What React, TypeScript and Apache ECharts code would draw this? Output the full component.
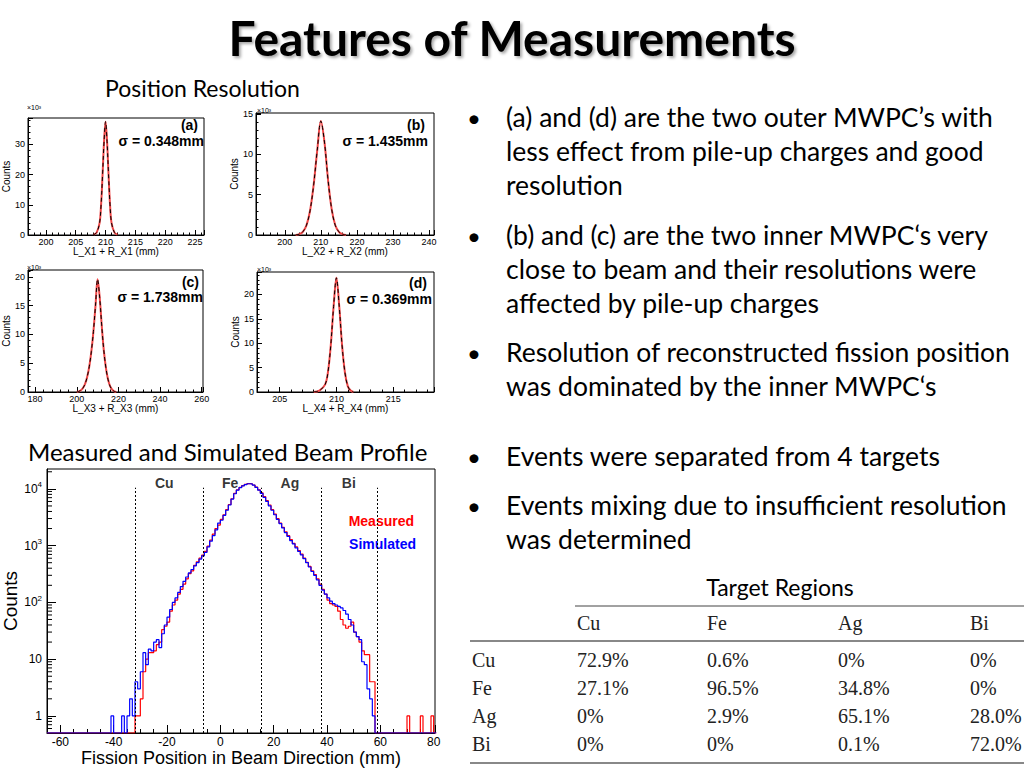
import React, { useEffect, useRef } from "react";
import * as echarts from "echarts";

// ---------------- Data ----------------
// Position-resolution panels (counts in units of 10^3)
const panelA_x = [208, 208.5, 209, 209.25, 209.5, 209.75, 210, 210.25, 210.5, 210.75, 211, 211.5, 212];
const panelA_y = [0.1, 0.8, 4, 10, 20, 31, 37.5, 31, 20, 10, 4, 0.8, 0.1];
const panelB_x = [203, 204, 205, 206, 207, 208, 209, 210, 211, 212, 213, 214, 215, 216, 217];
const panelB_y = [0, 0.1, 0.4, 1.2, 3.0, 6.2, 10.5, 14.1, 11.5, 6.8, 3.2, 1.2, 0.4, 0.1, 0];
const panelC_x = [200, 201, 202, 203, 204, 205, 206, 207, 208, 209, 210, 211, 212, 213, 214, 215, 216, 217, 218, 219];
const panelC_y = [0, 0.1, 0.3, 0.7, 1.4, 2.6, 4.4, 7.0, 10.5, 15.0, 19.6, 16.5, 11.5, 7.2, 4.2, 2.2, 1.0, 0.4, 0.1, 0];
const panelD_x = [208, 208.5, 209, 209.25, 209.5, 209.75, 210, 210.25, 210.5, 210.75, 211, 211.25, 211.5];
const panelD_y = [0, 0.3, 1.5, 4, 9.5, 17.5, 23.4, 17.5, 9.5, 4, 1.2, 0.3, 0];

// Beam profile histograms: 1 mm bins, left edges from -65 mm
const profileBinStart = -65;
const profileBinWidth = 1;
const measuredCounts = [
  0, 0, 0, 0, 0, 0, 0, 0, 0, 0, 0, 0, 0, 0, 0, 0, 0, 0, 0, 0, // -65..-46
  0, 0, 0, 0, 0, 0, 0, 0, 0, 0, 0, 0, 0, // -45..-33
  1, 1, 2, 6, 10, 13, 13, 14, 18, 20, // -32..-23
  33, 38, 45, 70, 90, 110, 140, 170, 210, 260, // -22..-13
  320, 360, 450, 520, 600, 680, 790, 980, 1250, 1600, // -12..-3
  2000, 2300, 2900, 3500, 4300, 5300, 6700, 8300, 9600, 10600, // -2..7
  11400, 12000, 12400, 12300, 11700, 10700, 9600, 8500, 7300, 6200, // 8..17
  5200, 4300, 3600, 3000, 2500, 2100, 1750, 1500, 1280, 1100, // 18..27
  950, 820, 710, 600, 510, 430, 360, 310, 260, 210, // 28..37
  170, 140, 110, 95, 90, 85, 70, 50, 40, 35, // 38..47
  38, 45, 30, 25, 20, 14, 12, 12, 4, 4, // 48..57
  0, 0, 0, 0, 0, 0, 0, 0, 0, 0, 0, 0, // 58..69
  1, 0, 0, 0, 0, 1, 0, 0, 0, 1, 0, // 70..80
];
const simulatedCounts = [
  0, 0, 0, 0, 0, 0, 0, 0, 0, 0, 0, 0, 0, 0, 0, 0, 0, 0, 0, 0, // -65..-46
  0, 0, 0, 0, 1, 0, 0, 0, 1, 0, 1, 2, 1, // -45..-33
  4, 3, 6, 13, 8, 15, 14, 20, 22, 16, // -32..-23
  28, 40, 55, 75, 100, 120, 150, 190, 235, 280, // -22..-13
  330, 380, 440, 500, 580, 660, 760, 950, 1200, 1500, // -12..-3
  1900, 2500, 2800, 3400, 4200, 5200, 6600, 8200, 9500, 10500, // -2..7
  11300, 11900, 12300, 12200, 11600, 10600, 9500, 8300, 7100, 6000, // 8..17
  5000, 4200, 3500, 2900, 2450, 2050, 1700, 1450, 1230, 1070, // 18..27
  910, 790, 690, 590, 500, 420, 350, 300, 250, 200, // 28..37
  165, 140, 120, 105, 95, 90, 85, 80, 72, 62, // 38..47
  50, 40, 30, 25, 22, 9, 8, 3, 2, 1, // 48..57
  0, 0, 0, 0, 0, 0, 0, 0, 0, 0, 0, 0, // 58..69
  0, 0, 0, 0, 0, 0, 0, 0, 0, 0, 0, // 70..80
];
const targetNames = ["Cu", "Fe", "Ag", "Bi"];
const targetLabelX = [-21, 3.7, 26.1, 48.2];
const targetBounds = [-32, -6.5, 15.4, 38, 59];

// Table
const tableCols = ["Cu", "Fe", "Ag", "Bi"];
const tableRows = ["Cu", "Fe", "Ag", "Bi"];
const tableValues = [
  ["72.9%", "0.6%", "0%", "0%"],
  ["27.1%", "96.5%", "34.8%", "0%"],
  ["0%", "2.9%", "65.1%", "28.0%"],
  ["0%", "0%", "0.1%", "72.0%"],
];

const bulletTexts = [
  ["(a) and (d) are the two outer MWPC\u2019s with", "less effect from pile-up charges and good", "resolution"],
  ["(b) and (c) are the two inner MWPC\u2018s very", "close to beam and their resolutions were", "affected by pile-up charges"],
  ["Resolution of reconstructed fission position", "was dominated by the inner MWPC\u2018s"],
  ["Events were separated from 4 targets"],
  ["Events mixing due to insufficient resolution", "was determined"],
];

// ---------------- Layout ----------------
const SANS = "'Liberation Sans', Arial, sans-serif";
const SLIDE = "Lato, 'Open Sans', sans-serif";
const SERIF = "'Liberation Serif', 'Times New Roman', serif";
const LOG_MIN = Math.log10(0.5);
const LOG_MAX = 4.35;

const panels = [
  { x: panelA_x, y: panelA_y, grid: { left: 28, top: 118, width: 176, height: 117 }, xMin: 197, xMax: 226.5, split: 6, yMax: 38.7, yInt: 10, xTitle: "L_X1 + R_X1 (mm)", tag: "(a)", sigma: "\u03c3 = 0.348mm", tagPos: [198, 125], sigmaPos: [204, 141], expPos: [27, 107] },
  { x: panelB_x, y: panelB_y, grid: { left: 256, top: 113, width: 178, height: 122 }, xMin: 192, xMax: 241.4, split: 5, yMax: 15.1, yInt: 5, xTitle: "L_X2 + R_X2 (mm)", tag: "(b)", sigma: "\u03c3 = 1.435mm", tagPos: [425, 125], sigmaPos: [428, 141], expPos: [257, 110] },
  { x: panelC_x, y: panelC_y, grid: { left: 28, top: 270, width: 175, height: 122 }, xMin: 176.6, xMax: 260.6, split: 4, yMax: 21.2, yInt: 5, xTitle: "L_X3 + R_X3 (mm)", tag: "(c)", sigma: "\u03c3 = 1.738mm", tagPos: [199, 282], sigmaPos: [203, 297], expPos: [27, 267] },
  { x: panelD_x, y: panelD_y, grid: { left: 257, top: 272, width: 177, height: 120 }, xMin: 203, xMax: 218.6, split: 3, yMax: 24.6, yInt: 5, xTitle: "L_X4 + R_X4 (mm)", tag: "(d)", sigma: "\u03c3 = 0.369mm", tagPos: [427, 283], sigmaPos: [432, 299], expPos: [257, 269] },
];

function buildOption() {
  const grids: any[] = [];
  const xAxes: any[] = [];
  const yAxes: any[] = [];
  const series: any[] = [];
  const graphic: any[] = [];

  const axisCommon = {
    axisLine: { show: true, onZero: false, lineStyle: { color: "#000", width: 1 } },
    splitLine: { show: false },
  };

  panels.forEach((p, i) => {
    grids.push({ ...p.grid, show: true, borderColor: "#000", borderWidth: 1, backgroundColor: "#fff" });
    xAxes.push({
      ...axisCommon,
      type: "value",
      gridIndex: i,
      min: p.xMin,
      max: p.xMax,
      splitNumber: p.split,
      axisTick: { show: true, inside: true, length: 5, lineStyle: { color: "#000" } },
      minorTick: { show: true, splitNumber: 5, length: 2.5, lineStyle: { color: "#000" } },
      axisLabel: { fontSize: 9, color: "#000", margin: 2, fontFamily: SANS, showMinLabel: false, showMaxLabel: false },
      name: p.xTitle,
      nameLocation: "middle",
      nameGap: 11,
      nameTextStyle: { fontSize: 10, color: "#000", fontFamily: SANS },
    });
    yAxes.push({
      ...axisCommon,
      type: "value",
      gridIndex: i,
      min: 0,
      max: p.yMax,
      interval: p.yInt,
      axisTick: { show: true, inside: true, length: 5, lineStyle: { color: "#000" } },
      minorTick: { show: true, splitNumber: 5, length: 2.5, lineStyle: { color: "#000" } },
      axisLabel: { fontSize: 9, color: "#000", margin: 3, fontFamily: SANS, showMaxLabel: false },
      name: "Counts",
      nameLocation: "middle",
      nameGap: 15,
      nameTextStyle: { fontSize: 10, color: "#000", fontFamily: SANS },
    });
    const pts = p.x.map((xv, k) => [xv, p.y[k]]);
    series.push({
      type: "line",
      xAxisIndex: i,
      yAxisIndex: i,
      data: pts,
      symbol: "none",
      smooth: 0.35,
      lineStyle: { color: "#f04848", width: 2 },
      z: 2,
    });
    series.push({
      type: "line",
      xAxisIndex: i,
      yAxisIndex: i,
      data: pts,
      symbol: "none",
      smooth: 0.35,
      lineStyle: { color: "#000", width: 1, type: [4, 3] },
      z: 3,
    });
    graphic.push({ type: "text", x: p.tagPos[0], y: p.tagPos[1], style: { text: p.tag, fontSize: 14, fontWeight: "bold", fontFamily: SANS, fill: "#000", align: "right", verticalAlign: "middle" } });
    graphic.push({ type: "text", x: p.sigmaPos[0], y: p.sigmaPos[1], style: { text: p.sigma, fontSize: 14, fontWeight: "bold", fontFamily: SANS, fill: "#000", align: "right", verticalAlign: "middle" } });
    graphic.push({ type: "text", x: p.expPos[0], y: p.expPos[1], style: { text: "\u00d710\u00b3", fontSize: 7, fontFamily: SANS, fill: "#000", align: "left", verticalAlign: "middle" } });
  });

  // Beam profile
  const gi = panels.length;
  grids.push({ left: 46, top: 469, width: 389, height: 264, show: true, borderColor: "#000", borderWidth: 1, backgroundColor: "#fff" });
  xAxes.push({
    ...axisCommon,
    type: "value",
    gridIndex: gi,
    min: -65,
    max: 80.5,
    splitNumber: 7,
    axisTick: { show: true, inside: true, length: 8, lineStyle: { color: "#000" } },
    minorTick: { show: true, splitNumber: 4, length: 4, lineStyle: { color: "#000" } },
    axisLabel: { fontSize: 12, color: "#000", margin: 3, fontFamily: SANS, showMinLabel: false, showMaxLabel: false },
    name: "Fission Position in Beam Direction (mm)",
    nameLocation: "middle",
    nameGap: 16,
    nameTextStyle: { fontSize: 18, color: "#000", fontFamily: SANS },
  });
  yAxes.push({
    ...axisCommon,
    type: "value",
    gridIndex: gi,
    min: LOG_MIN,
    max: LOG_MAX,
    splitNumber: 5,
    axisTick: { show: true, inside: true, length: 9, lineStyle: { color: "#000" } },
    axisLabel: {
      fontSize: 12,
      color: "#000",
      margin: 5,
      fontFamily: SANS,
      showMinLabel: false,
      showMaxLabel: false,
      formatter: (v: number) => {
        if (v < -1e-6 || Math.abs(v - Math.round(v)) > 1e-6) return "";
        const n = Math.round(v);
        if (n === 0) return "1";
        if (n === 1) return "10";
        return "10{sup|" + n + "}";
      },
      rich: { sup: { fontSize: 8, fontFamily: SANS, color: "#000", padding: [0, 0, 8, 0] } },
    },
    name: "Counts",
    nameLocation: "middle",
    nameGap: 27,
    nameTextStyle: { fontSize: 19, color: "#000", fontFamily: SANS },
  });

  const toLog = (c: number) => Math.log10(Math.max(c, 0.5));
  const histPoints = (counts: number[]) => {
    const pts = counts.map((c, k) => [profileBinStart + k * profileBinWidth, toLog(c)]);
    pts.push([profileBinStart + counts.length * profileBinWidth, toLog(counts[counts.length - 1])]);
    return pts;
  };

  // minor log ticks
  const minorLogTicks: number[][] = [];
  for (let d = -1; d <= 4; d++) {
    for (let k = 2; k <= 9; k++) {
      const v = Math.log10(k * Math.pow(10, d));
      if (v > LOG_MIN && v < LOG_MAX) minorLogTicks.push([-65, v]);
    }
  }
  series.push({
    type: "custom",
    xAxisIndex: gi,
    yAxisIndex: gi,
    data: minorLogTicks,
    silent: true,
    renderItem: (params: any, api: any) => {
      const p = api.coord([api.value(0), api.value(1)]);
      return { type: "line", shape: { x1: p[0], y1: p[1], x2: p[0] + 5, y2: p[1] }, style: { stroke: "#000", lineWidth: 1 } };
    },
    z: 5,
  });

  series.push({
    type: "line",
    name: "Measured",
    xAxisIndex: gi,
    yAxisIndex: gi,
    data: histPoints(measuredCounts),
    step: "end",
    symbol: "none",
    lineStyle: { color: "#ff0000", width: 1.2 },
    z: 3,
    markLine: {
      symbol: "none",
      silent: true,
      label: { show: false },
      lineStyle: { color: "#000", width: 1, type: [2, 2] },
      data: targetBounds.map((b) => [{ coord: [b, LOG_MIN] }, { coord: [b, 4.02] }]),
    },
  });
  series.push({
    type: "line",
    name: "Simulated",
    xAxisIndex: gi,
    yAxisIndex: gi,
    data: histPoints(simulatedCounts),
    step: "end",
    symbol: "none",
    lineStyle: { color: "#0000ff", width: 1.2 },
    z: 4,
  });
  series.push({
    type: "scatter",
    xAxisIndex: gi,
    yAxisIndex: gi,
    data: targetNames.map((n, k) => ({ value: [targetLabelX[k], 4.1], name: n })),
    symbolSize: 0,
    silent: true,
    label: { show: true, position: "inside", formatter: "{b}", fontSize: 14, fontWeight: "bold", color: "#000", fontFamily: SANS },
    z: 6,
  });

  graphic.push({ type: "text", x: 414, y: 521, style: { text: "Measured", fontSize: 14, fontWeight: "bold", fontFamily: SANS, fill: "#ff0000", align: "right", verticalAlign: "middle" } });
  graphic.push({ type: "text", x: 416, y: 544, style: { text: "Simulated", fontSize: 14, fontWeight: "bold", fontFamily: SANS, fill: "#0000ff", align: "right", verticalAlign: "middle" } });

  // Slide texts
  graphic.push({
    type: "text", x: 512, y: 37,
    style: {
      text: "Features of Measurements", fontSize: 48, fontWeight: "bold", fontFamily: SLIDE, fill: "#000",
      align: "center", verticalAlign: "middle",
      textShadowColor: "rgba(0,0,0,0.35)", textShadowBlur: 3, textShadowOffsetX: 2, textShadowOffsetY: 2,
    },
  });
  graphic.push({ type: "text", x: 105, y: 88, style: { text: "Position Resolution", fontSize: 23, fontFamily: SLIDE, fill: "#000", align: "left", verticalAlign: "middle" } });
  graphic.push({ type: "text", x: 28, y: 451, style: { text: "Measured and Simulated Beam Profile", fontSize: 24, fontFamily: SLIDE, fill: "#000", align: "left", verticalAlign: "middle" } });
  graphic.push({ type: "text", x: 780, y: 587, style: { text: "Target Regions", fontSize: 23, fontFamily: SLIDE, fill: "#000", align: "center", verticalAlign: "middle" } });

  const bulletY = [117, 235, 352, 456, 505];
  bulletTexts.forEach((lines, bi) => {
    graphic.push({ type: "text", x: 467, y: bulletY[bi], style: { text: "\u2022", fontSize: 24, fontFamily: SLIDE, fill: "#000", align: "left", verticalAlign: "middle" } });
    lines.forEach((ln, li) => {
      graphic.push({ type: "text", x: 506, y: bulletY[bi] + li * 34, style: { text: ln, fontSize: 26.5, fontFamily: SLIDE, fill: "#000", align: "left", verticalAlign: "middle" } });
    });
  });

  // Table
  const colX = [577, 707, 838, 970];
  const rowY = [660, 688, 716, 744];
  graphic.push({ type: "line", shape: { x1: 575, y1: 606, x2: 1024, y2: 606 }, style: { stroke: "#444", lineWidth: 1 } });
  graphic.push({ type: "line", shape: { x1: 470, y1: 641, x2: 1024, y2: 641 }, style: { stroke: "#888", lineWidth: 2 } });
  graphic.push({ type: "line", shape: { x1: 470, y1: 763, x2: 1024, y2: 763 }, style: { stroke: "#888", lineWidth: 2 } });
  tableCols.forEach((c, k) => {
    graphic.push({ type: "text", x: colX[k], y: 623, style: { text: c, fontSize: 20, fontFamily: SERIF, fill: "#222", align: "left", verticalAlign: "middle" } });
  });
  tableRows.forEach((r, ri) => {
    graphic.push({ type: "text", x: 472, y: rowY[ri], style: { text: r, fontSize: 20, fontFamily: SERIF, fill: "#222", align: "left", verticalAlign: "middle" } });
    tableValues[ri].forEach((v, ci) => {
      graphic.push({ type: "text", x: colX[ci], y: rowY[ri], style: { text: v, fontSize: 20, fontFamily: SERIF, fill: "#222", align: "left", verticalAlign: "middle" } });
    });
  });

  return {
    animation: false,
    backgroundColor: "#fff",
    grid: grids,
    xAxis: xAxes,
    yAxis: yAxes,
    series,
    graphic,
  };
}

export default function App() {
  const ref = useRef<HTMLDivElement>(null);
  useEffect(() => {
    if (!ref.current) return;
    const chart = echarts.init(ref.current, null, { renderer: "svg" });
    chart.setOption(buildOption() as any);
    return () => chart.dispose();
  }, []);
  return (
    <div
      ref={ref}
      style={{ position: "fixed", left: 0, top: 0, width: 1024, height: 768, background: "#fff" }}
    />
  );
}
